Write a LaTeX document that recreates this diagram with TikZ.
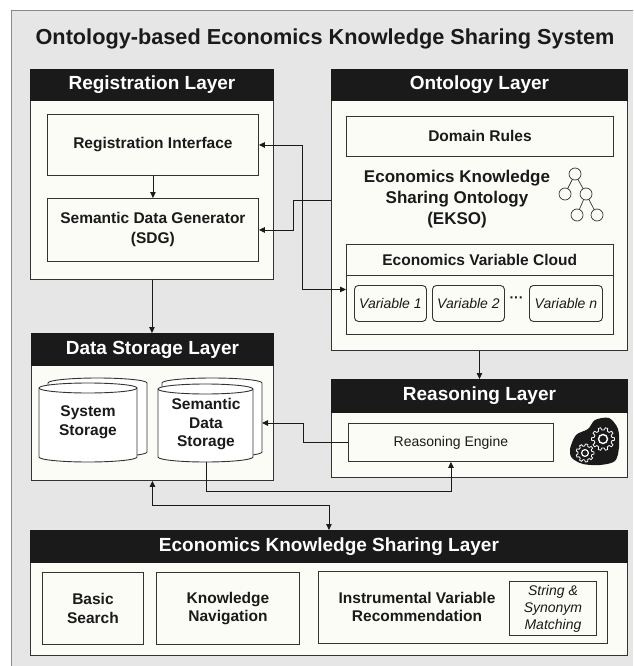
\documentclass[tikz,border=0pt]{standalone}
\usepackage{fontspec}
\setmainfont{Liberation Sans}
\usetikzlibrary{arrows.meta}
\definecolor{bg}{HTML}{E6E6E6}
\definecolor{body}{HTML}{FCFCF7}
\definecolor{ink}{HTML}{1A1A1A}
\definecolor{edge}{HTML}{333333}
\definecolor{frame}{HTML}{8A8A8A}
\begin{document}
\begin{tikzpicture}[x=1pt,y=-1pt,
  layerbox/.style={draw=edge, fill=body, line width=0.9pt, inner sep=0pt, anchor=north west},
  hdr/.style={fill=ink, draw=ink, line width=0.9pt, inner sep=0pt, anchor=north west, text=white, font=\fontsize{19}{22}\selectfont\bfseries},
  ibox/.style={draw=edge, fill=body, line width=0.9pt, inner sep=0pt, anchor=north west, text=ink, align=center, font=\fontsize{15.5}{18.5}\selectfont\bfseries},
  varbox/.style={draw=edge, fill=body, line width=0.9pt, inner sep=0pt, anchor=north west, rounded corners=4pt, text=ink, font=\fontsize{14}{16}\selectfont\itshape},
  btext/.style={text=ink, align=center, font=\fontsize{15.5}{18.5}\selectfont\bfseries},
  cyl/.style={draw=edge, fill=white, line width=0.9pt},
  arr/.style={draw=ink, line width=0.9pt, -{Triangle[length=6pt,width=5.5pt]}},
  dbl/.style={draw=ink, line width=0.9pt, {Triangle[length=6pt,width=5.5pt]}-{Triangle[length=6pt,width=5.5pt]}},
  treeline/.style={draw=edge, line width=0.7pt}
]
\useasboundingbox (0,0) rectangle (633,666);
\clip (0,0) rectangle (633,666);
\fill[white] (0,0) rectangle (633,666);
\draw[fill=bg, draw=frame, line width=1pt] (11,11) rectangle (700,720);

% title
\node[anchor=base, text=ink, font=\fontsize{21.7}{24}\selectfont\bfseries] (title) at (325,45) {Ontology-based Economics Knowledge Sharing System};

% Registration layer
\node[layerbox, minimum width=243pt, minimum height=210pt] (reg) at (30,69) {};
\node[hdr, minimum width=243pt, minimum height=31pt] (regh) at (30,69) {Registration Layer};
\node[ibox, minimum width=211pt, minimum height=61pt] (ri) at (47,114) {Registration Interface};
\node[ibox, minimum width=211pt, minimum height=63pt, font=\fontsize{15.5}{20}\selectfont\bfseries] (sdg) at (47,198) {Semantic Data Generator\\(SDG)};

% Ontology layer
\node[layerbox, minimum width=296pt, minimum height=281pt] (ont) at (331,69) {};
\node[hdr, minimum width=296pt, minimum height=31pt] (onth) at (331,69) {Ontology Layer};
\node[ibox, minimum width=267pt, minimum height=40pt] (dom) at (346,116) {Domain Rules};
\node[text=ink, align=center, font=\fontsize{17}{21}\selectfont\bfseries] (ekso) at (457,199) {Economics Knowledge\\Sharing Ontology\\(EKSO)};
% tree icon
\coordinate (t1) at (575,174);
\coordinate (t2) at (565,194);
\coordinate (t3) at (586,194);
\coordinate (t4) at (577,215);
\coordinate (t5) at (597,215);
\draw[treeline] (t1) -- (t2) (t1) -- (t3) (t3) -- (t4) (t3) -- (t5);
\foreach \c in {t1,t2,t3,t4,t5} \draw[treeline, fill=body] (\c) circle[radius=6pt];
% variable cloud
\node[ibox, minimum width=267pt, minimum height=90pt] (cloud) at (346,244) {};
\node[anchor=north west, minimum width=267pt, minimum height=31pt, inner sep=0pt, text=ink, font=\fontsize{15.5}{18.5}\selectfont\bfseries] (cloudh) at (346,244) {Economics Variable Cloud};
\draw[draw=edge, line width=0.9pt] (cloudh.south west) -- (cloudh.south east);
\node[varbox, minimum width=72pt, minimum height=36pt] (v1) at (354,285) {Variable 1};
\node[varbox, minimum width=72pt, minimum height=36pt] (v2) at (432,285) {Variable 2};
\node[varbox, minimum width=73pt, minimum height=36pt] (vn) at (529,285) {Variable n};
\node[text=ink, font=\fontsize{14}{16}\selectfont\bfseries, inner sep=0pt] (dots) at (516.5,300) {···};

% Data storage layer
\node[layerbox, minimum width=242pt, minimum height=147pt] (dsl) at (31,333) {};
\node[hdr, minimum width=242pt, minimum height=32pt] (dslh) at (31,333) {Data Storage Layer};
% system storage cylinders
\path[cyl] (48,383) -- (48,452) arc[start angle=180, end angle=360, x radius=49.5pt, y radius=5pt] -- (147,383) arc[start angle=0, end angle=180, x radius=49.5pt, y radius=5pt] -- cycle;
\path[cyl] (39,388) -- (39,457) arc[start angle=180, end angle=360, x radius=49pt, y radius=5pt] -- (137,388) arc[start angle=0, end angle=180, x radius=49pt, y radius=5pt] -- cycle;
\draw[draw=edge, line width=0.9pt] (39,388) arc[start angle=180, end angle=360, x radius=49pt, y radius=5pt];
% semantic storage cylinders
\path[cyl] (162,383) -- (162,452) arc[start angle=180, end angle=360, x radius=50pt, y radius=5pt] -- (262,383) arc[start angle=0, end angle=180, x radius=50pt, y radius=5pt] -- cycle;
\path[cyl] (158,389) -- (158,457) arc[start angle=180, end angle=360, x radius=47.5pt, y radius=5pt] -- (253,389) arc[start angle=0, end angle=180, x radius=47.5pt, y radius=5pt] -- cycle;
\draw[draw=edge, line width=0.9pt] (158,389) arc[start angle=180, end angle=360, x radius=47.5pt, y radius=5pt];
\node[btext] (sys) at (88,422) {System\\Storage};
\node[btext] (sem) at (206,424.5) {Semantic\\Data\\Storage};
\coordinate (semR) at (262,423);
\coordinate (semB) at (206,462);

% Reasoning layer
\node[layerbox, minimum width=296pt, minimum height=98pt] (rl) at (331,379) {};
\node[hdr, minimum width=296pt, minimum height=33pt] (rlh) at (331,379) {Reasoning Layer};
\node[ibox, minimum width=205pt, minimum height=38pt, font=\fontsize{14}{16}\selectfont] (re) at (348,423) {Reasoning Engine};
% gear icon
\fill[ink] plot[smooth cycle] coordinates {(570,449) (576,435) (588,429) (595,420) (609,418) (618,429) (619,447) (615,461) (600,465) (583,464) (572,458)};
\begin{scope}[shift={(603,439)}]
  \draw[white, line width=0.8pt, fill=ink] (0:11.5) \foreach \i in {0,...,9} { -- (\i*36+6:11.5) -- (\i*36+11:9) -- (\i*36+25:9) -- (\i*36+30:11.5)} -- cycle;
  \draw[white, line width=1.4pt] (0,0) circle[radius=4.5pt];
\end{scope}
\begin{scope}[shift={(585,453)}]
  \draw[white, line width=0.8pt, fill=ink] (0:9) \foreach \i in {0,...,8} { -- (\i*40+7:9) -- (\i*40+13:7) -- (\i*40+27:7) -- (\i*40+33:9)} -- cycle;
  \draw[white, line width=1.2pt] (0,0) circle[radius=3.4pt];
\end{scope}

% Economics knowledge sharing layer
\node[layerbox, minimum width=597pt, minimum height=125pt] (eks) at (30,530) {};
\node[hdr, minimum width=597pt, minimum height=32pt] (eksh) at (30,530) {Economics Knowledge Sharing Layer};
\node[ibox, minimum width=101pt, minimum height=72pt] (bs) at (42,572) {Basic\\Search};
\node[ibox, minimum width=143pt, minimum height=72pt] (kn) at (156,572) {Knowledge\\Navigation};
\node[ibox, minimum width=289pt, minimum height=72pt] (ivr) at (318,571) {};
\node[btext] (ivrt) at (417,607) {Instrumental Variable\\Recommendation};
\node[ibox, minimum width=87pt, minimum height=54pt, font=\fontsize{14}{17}\selectfont\itshape] (sm) at (509,581) {String \&\\Synonym\\Matching};

% connectors
\draw[arr] (ri.south) -- (sdg.north);
\draw[arr] (reg.south) -- (reg.south |- dslh.north);
\draw[arr] ([yshift=9.5pt]ont.west) -- ++(-38,0) |- (sdg.east);
\draw[dbl] (ri.east) -- ++(44,0) |- (cloud.west);
\draw[arr] (ont.south) -- (rlh.north);
\draw[arr] (re.west) -- ++(-45,0) |- (semR);
\draw[arr] (semB) -- ++(0,29) -| (re.south);
\draw[dbl] (dsl.south) -- ++(0,25) -| (eksh.north);
\end{tikzpicture}
\end{document}
